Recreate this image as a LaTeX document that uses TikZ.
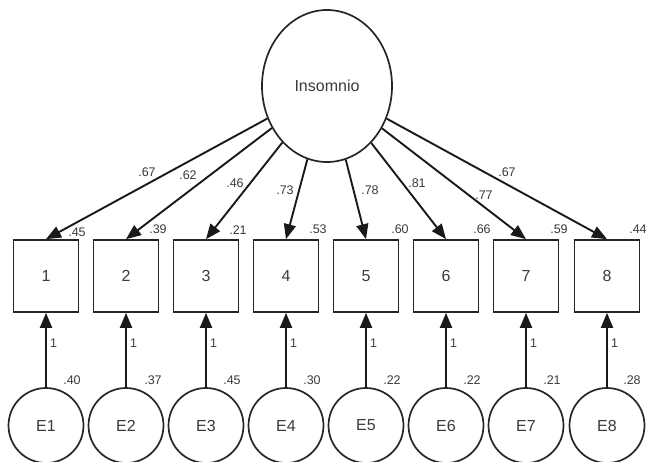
\documentclass[tikz,border=0pt]{standalone}
\usepackage{fontspec}
\setmainfont{Liberation Sans}
\usetikzlibrary{shapes.geometric,arrows.meta}
\definecolor{txt}{HTML}{3A3A3A}
\tikzset{
  obs/.style={draw=black!85, line width=1.7pt, minimum width=65pt, minimum height=72pt, inner sep=0pt, font=\fontsize{16}{16}\selectfont, text=txt},
  err/.style={draw=black!85, line width=1.7pt, circle, minimum size=75pt, inner sep=0pt, font=\fontsize{16}{16}\selectfont, text=txt},
  lat/.style={draw=black!85, line width=1.7pt, ellipse, minimum width=130pt, minimum height=152pt, inner sep=0pt, font=\fontsize{16}{16}\selectfont, text=txt},
  conn/.style={line width=1.9pt, draw=black!90, -{Triangle[length=15pt,width=12pt]}},
  lbl/.style={font=\fontsize{12.5}{12.5}\selectfont, text=txt, inner sep=0pt},
}
\begin{document}
\begin{tikzpicture}[x=1pt,y=-1pt]
\useasboundingbox (0,0) rectangle (647,461);
\node[lat] (ins) at (327,86) {Insomnio};
\foreach \i/\x in {1/46,2/126,3/206,4/286,5/366,6/446,7/526,8/607}{
  \node[obs] (b\i) at (\x,276) {\i};
  \node[err] (e\i) at (\x,425.5) {E\i};
  \draw[conn] (e\i) -- (b\i.south);
  \node[lbl] (one\i) at (\x+7.5,343) {1};
}
\foreach \i in {1,...,8}{
  \draw[conn] (ins) -- (b\i.north);
}
% loadings
\node[lbl] (l1) at (147,172) {.67};
\node[lbl] (l2) at (188,175) {.62};
\node[lbl] (l3) at (235,183) {.46};
\node[lbl] (l4) at (285,190) {.73};
\node[lbl] (l5) at (370,190) {.78};
\node[lbl] (l6) at (417,183) {.81};
\node[lbl] (l7) at (484,195) {.77};
\node[lbl] (l8) at (507,172) {.67};
% R squared
\node[lbl] (r1) at (77,232) {.45};
\node[lbl] (r2) at (158,229) {.39};
\node[lbl] (r3) at (238,230) {.21};
\node[lbl] (r4) at (318,229) {.53};
\node[lbl] (r5) at (400,229) {.60};
\node[lbl] (r6) at (482,229) {.66};
\node[lbl] (r7) at (559,229) {.59};
\node[lbl] (r8) at (638,229) {.44};
% error variances
\node[lbl] (v1) at (72,380) {.40};
\node[lbl] (v2) at (153,380) {.37};
\node[lbl] (v3) at (232,380) {.45};
\node[lbl] (v4) at (312,380) {.30};
\node[lbl] (v5) at (392,380) {.22};
\node[lbl] (v6) at (472,380) {.22};
\node[lbl] (v7) at (552,380) {.21};
\node[lbl] (v8) at (632,380) {.28};
\end{tikzpicture}
\end{document}
